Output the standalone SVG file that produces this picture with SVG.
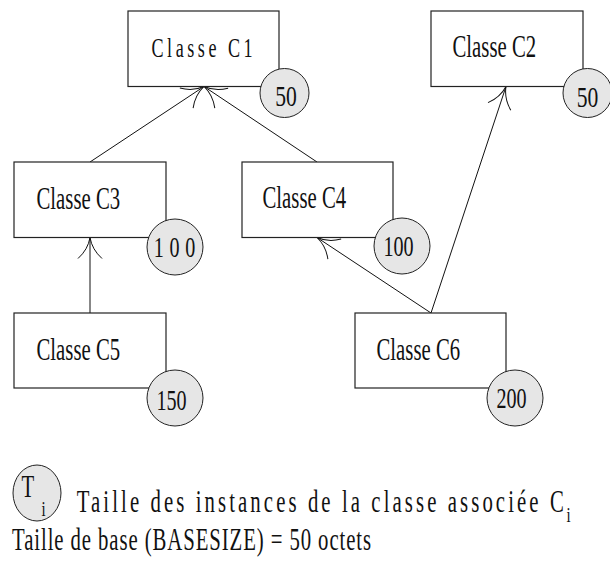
<svg xmlns="http://www.w3.org/2000/svg" width="610" height="571" viewBox="0 0 610 571">
  <style>
    .box { fill: #ffffff; stroke: #222222; stroke-width: 1.2; }
    .size { fill: #e6e6e6; stroke: #222222; stroke-width: 1; }
    .lbl { font-family: "Liberation Serif", "Times New Roman", serif; font-size: 31px; fill: #111111; }
    .num { font-family: "Liberation Serif", "Times New Roman", serif; font-size: 30px; fill: #111111; text-anchor: middle; }
    .edge { stroke: #111111; stroke-width: 1; fill: none; marker-end: url(#head); }
  </style>
  <defs>
    <!-- open arrowhead with curved, flared barbs; tip at the origin -->
    <marker id="head" markerUnits="userSpaceOnUse" markerWidth="30" markerHeight="30" viewBox="-25 -15 30 30" refX="0" refY="0" orient="auto" overflow="visible">
      <path d="M-21,-12 Q-12,-2 0,0 Q-12,2 -21,12" fill="none" stroke="#111111" stroke-width="1"/>
    </marker>
  </defs>

  <rect width="610" height="571" fill="#ffffff"/>

  <!-- inheritance links -->
  <g id="connectors">
    <line class="edge" x1="90" y1="162" x2="204" y2="86.5"/>
    <line class="edge" x1="317" y1="162" x2="204" y2="86.5"/>
    <line class="edge" x1="90" y1="313" x2="90" y2="237.5"/>
    <line class="edge" x1="431" y1="313" x2="317" y2="237.5"/>
    <line class="edge" x1="431" y1="313" x2="506" y2="86.5"/>
  </g>

  <g id="c1">
    <rect class="box" x="128" y="11" width="151" height="75.5"/>
    <text class="lbl" style="font-size:27px" transform="matrix(0.67 0 0 1 151.5 57)" textLength="151" lengthAdjust="spacing">Classe C1</text>
    <circle class="size" cx="284.5" cy="93" r="24.5"/>
    <text class="num" transform="matrix(0.72 0 0 1 286 106)">50</text>
  </g>

  <g id="c2">
    <rect class="box" x="431" y="11" width="152" height="75.5"/>
    <text class="lbl" transform="matrix(0.67 0 0 1 452.5 57)">Classe C2</text>
    <circle class="size" cx="587.5" cy="93" r="24.5"/>
    <text class="num" transform="matrix(0.72 0 0 1 587.5 107)">50</text>
  </g>

  <g id="c3">
    <rect class="box" x="14" y="162" width="152" height="75.5"/>
    <text class="lbl" transform="matrix(0.67 0 0 1 36.5 209)">Classe C3</text>
    <circle class="size" cx="175" cy="247" r="28"/>
    <text class="num" transform="matrix(0.67 0 0 1 174.5 257)" textLength="62" lengthAdjust="spacing">100</text>
  </g>

  <g id="c4">
    <rect class="box" x="242" y="162" width="151" height="75.5"/>
    <text class="lbl" transform="matrix(0.67 0 0 1 262.5 208)">Classe C4</text>
    <circle class="size" cx="402" cy="246" r="28"/>
    <text class="num" transform="matrix(0.67 0 0 1 398.5 256)">100</text>
  </g>

  <g id="c5">
    <rect class="box" x="14" y="313" width="152" height="75"/>
    <text class="lbl" transform="matrix(0.67 0 0 1 36.5 360)">Classe C5</text>
    <circle class="size" cx="175" cy="398" r="28"/>
    <text class="num" transform="matrix(0.67 0 0 1 171.5 410)">150</text>
  </g>

  <g id="c6">
    <rect class="box" x="355" y="313" width="151" height="75"/>
    <text class="lbl" transform="matrix(0.67 0 0 1 376.5 360)">Classe C6</text>
    <circle class="size" cx="515" cy="398" r="28"/>
    <text class="num" transform="matrix(0.67 0 0 1 511.5 408)">200</text>
  </g>

  <!-- legend -->
  <g id="legend">
    <ellipse class="size" cx="37" cy="493" rx="24" ry="28"/>
    <text class="lbl" transform="matrix(0.67 0 0 1 21.5 497)">T</text>
    <text class="lbl" style="font-size:22px" transform="matrix(0.67 0 0 1 41.5 516)">i</text>
    <text class="lbl" transform="matrix(0.67 0 0 1 76.7 512)" textLength="727" lengthAdjust="spacing">Taille des instances de la classe associée C</text>
    <text class="lbl" style="font-size:22px" transform="matrix(0.67 0 0 1 566.5 522)">i</text>
    <text class="lbl" transform="matrix(0.67 0 0 1 12 550)" textLength="536" lengthAdjust="spacing">Taille de base (BASESIZE) = 50 octets</text>
  </g>
</svg>
